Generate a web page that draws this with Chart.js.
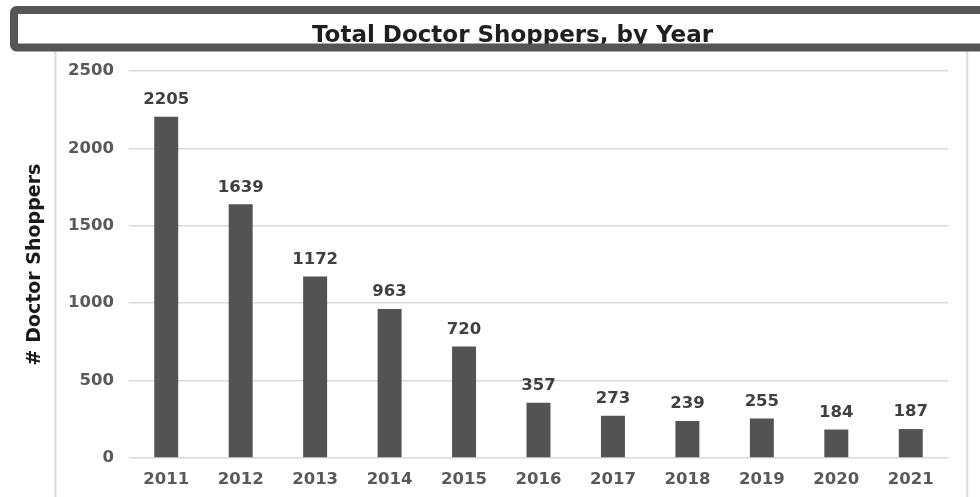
<!DOCTYPE html>
<html>
<head>
<meta charset="utf-8">
<script src="https://cdn.jsdelivr.net/npm/chart.js@4/dist/chart.umd.min.js"></script>
<style>
html,body{margin:0;padding:0;background:#ffffff;}
#wrap{width:980px;height:497px;position:relative;}
</style>
</head>
<body>
<div id="wrap"><canvas id="c" width="980" height="497"></canvas></div>
<script>
const years = ['2011','2012','2013','2014','2015','2016','2017','2018','2019','2020','2021'];
const shoppers = [2205,1639,1172,963,720,357,273,239,255,184,187];
const yTicks = [0,500,1000,1500,2000,2500];
const chartTitle = 'Total Doctor Shoppers, by Year';
const yAxisTitle = '# Doctor Shoppers';

const FONT = "'DejaVu Sans', Verdana, sans-serif";

const framePlugin = {
  id: 'frame',
  beforeDraw(chart) {
    const ctx = chart.ctx;
    ctx.save();
    ctx.fillStyle = '#ffffff';
    ctx.fillRect(0, 0, chart.width, chart.height);
    ctx.strokeStyle = '#d9d9d9';
    ctx.lineWidth = 2;
    ctx.beginPath();
    ctx.moveTo(55.5, 50); ctx.lineTo(55.5, 497);
    ctx.moveTo(967.3, 50); ctx.lineTo(967.3, 497);
    ctx.stroke();
    ctx.restore();
  },
  afterDatasetsDraw(chart) {
    const ctx = chart.ctx;
    const meta = chart.getDatasetMeta(0);
    ctx.save();
    ctx.fillStyle = '#404040';
    ctx.font = 'bold 16.5px ' + FONT;
    ctx.textAlign = 'center';
    ctx.textBaseline = 'middle';
    meta.data.forEach((bar, i) => {
      ctx.fillText(String(shoppers[i]), bar.x, bar.y - 17);
    });
    ctx.restore();
  },
  afterDraw(chart) {
    const ctx = chart.ctx;
    ctx.save();
    ctx.fillStyle = '#1f1f1f';
    ctx.font = 'bold 23px ' + FONT;
    ctx.textAlign = 'center';
    ctx.textBaseline = 'alphabetic';
    ctx.fillText(chartTitle, 512.5, 42);
    ctx.strokeStyle = '#555555';
    ctx.lineWidth = 8;
    ctx.beginPath();
    if (ctx.roundRect) {
      ctx.roundRect(14, 10, 990, 37.5, 2.5);
    } else {
      ctx.rect(14, 10, 990, 37.5);
    }
    ctx.stroke();
    ctx.restore();
  }
};

new Chart(document.getElementById('c'), {
  type: 'bar',
  data: {
    labels: years,
    datasets: [{
      data: shoppers,
      backgroundColor: '#535353',
      borderWidth: 0,
      barPercentage: 0.322,
      categoryPercentage: 1
    }]
  },
  options: {
    responsive: false,
    animation: false,
    devicePixelRatio: 1,
    layout: { padding: { left: 10, right: 32, top: 71, bottom: 0 } },
    plugins: { legend: { display: false }, tooltip: { enabled: false }, title: { display: false } },
    scales: {
      x: {
        grid: { display: false, drawTicks: false },
        border: { display: false },
        ticks: { color: '#595959', font: { family: FONT, weight: 'bold', size: 16.5 }, padding: 12 },
        afterFit: s => { s.height = 39; }
      },
      y: {
        min: 0,
        max: 2500,
        afterBuildTicks: s => { s.ticks = yTicks.map(v => ({ value: v })); },
        grid: { color: '#d9d9d9', lineWidth: 1.5, drawTicks: false },
        border: { display: false },
        ticks: {
          color: '#595959',
          font: { family: FONT, weight: 'bold', size: 16.5 },
          padding: 15,
          callback: v => String(v)
        },
        title: { display: true, text: yAxisTitle, color: '#1a1a1a', font: { family: FONT, weight: 'bold', size: 19 }, padding: { top: 14, bottom: 0 } },
        afterFit: s => { s.width = 119; }
      }
    }
  },
  plugins: [framePlugin]
});
</script>
</body>
</html>
